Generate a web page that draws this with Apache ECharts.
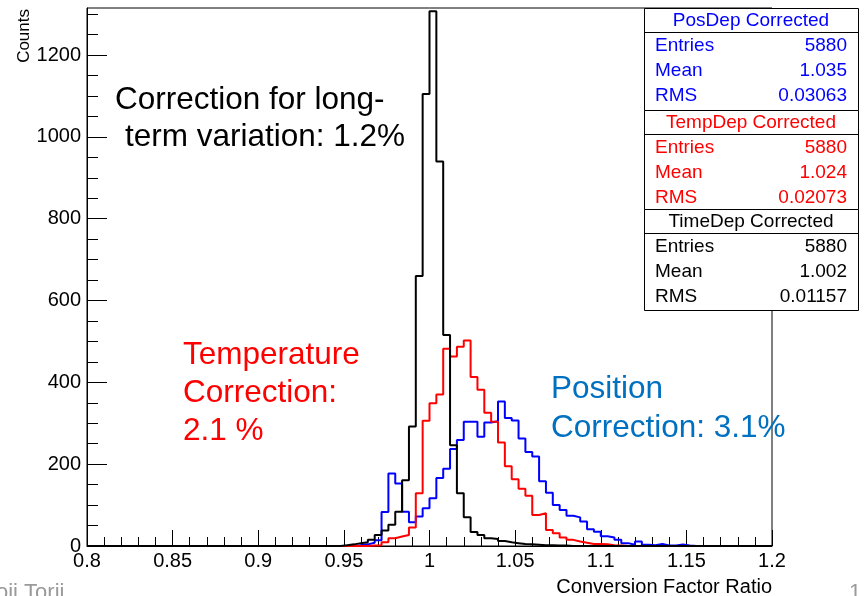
<!DOCTYPE html>
<html>
<head>
<meta charset="utf-8">
<script src="https://cdn.jsdelivr.net/npm/echarts@6/dist/echarts.min.js"></script>
<style>
html,body{margin:0;padding:0;background:#fff;}
#main{width:866px;height:596px;}
</style>
</head>
<body>
<div id="main"></div>
<script>
// Histogram binning (ROOT TH1: 100 bins from 0.8 to 1.2)
const xLow = 0.8;
const xHigh = 1.2;
const nBins = 100;

// PosDep Corrected (blue), counts starting at bin index posStart
const posStart = 39;
const posCounts = [2,4,8,14,83,177,153,84,58,72,92,117,166,189,237,259,304,304,267,302,305,353,313,307,263,230,219,158,130,100,88,74,70,60,41,35,24,21,15,7,3,11,3,2,5,1,1,4,1];

// TempDep Corrected (red)
const tempStart = 41;
const tempCounts = [1,2,9,19,23,27,45,129,306,349,370,482,463,487,502,413,382,326,304,253,195,163,140,123,76,80,39,31,21,15,11,8,5,5,4,2,1];

// TimeDep Corrected (black)
const timeStart = 37;
const timeCounts = [2,4,7,9,15,27,38,52,84,161,292,660,1105,1307,940,516,246,129,70,34,27,19,17,12,9,7,5,4,3,2,2,1,1];

// Axis ticks
const xMajorTicks = [0.8,0.85,0.9,0.95,1,1.05,1.1,1.15,1.2];
const yMajorTicks = [0,200,400,600,800,1000,1200];
const yMax = 1315;

// Stats boxes
const statsTitles = ['PosDep Corrected','TempDep Corrected','TimeDep Corrected'];
const statsEntries = ['5880','5880','5880'];
const statsMeans = ['1.035','1.024','1.002'];
const statsRMS = ['0.03063','0.02073','0.01157'];
const statsColors = ['#0000ff','#ff0000','#000000'];

function buildSteps(start, counts){
  const w = (xHigh - xLow) / nBins;
  const full = new Array(nBins).fill(0);
  counts.forEach((c,i)=>{ full[start+i] = c; });
  const pts = [];
  for(let i=0;i<nBins;i++) pts.push([xLow + i*w, full[i]]);
  pts.push([xHigh, full[nBins-1]]);
  return pts;
}

const xMinorTicks = [];
for(let k=1;k<40;k++){ if(k%5!==0) xMinorTicks.push(+(xLow + k*0.01).toFixed(3)); }
const yMinorTicks = [];
for(let v=50; v<yMax; v+=50){ if(v%200!==0) yMinorTicks.push(v); }

const FONT = "'Liberation Sans', Arial, Helvetica, sans-serif";

const chart = echarts.init(document.getElementById('main'), null, {renderer:'canvas'});

const graphics = [];
// axis titles
graphics.push({type:'text', x:16, y:9, rotation:Math.PI/2,
  style:{text:'Counts', font:'17px '+FONT, fill:'#000', align:'right', verticalAlign:'top'}});
graphics.push({type:'text', x:772, y:587,
  style:{text:'Conversion Factor Ratio', font:'20px '+FONT, fill:'#000', align:'right', verticalAlign:'middle'}});
// annotations
graphics.push({type:'text', x:115, y:100,
  style:{text:'Correction for long-', font:'31.5px '+FONT, fill:'#000', align:'left', verticalAlign:'middle'}});
graphics.push({type:'text', x:125, y:137,
  style:{text:'term variation: 1.2%', font:'31.5px '+FONT, fill:'#000', align:'left', verticalAlign:'middle'}});
graphics.push({type:'text', x:183, y:355,
  style:{text:'Temperature', font:'31.5px '+FONT, fill:'#ff0000', align:'left', verticalAlign:'middle'}});
graphics.push({type:'text', x:183, y:393,
  style:{text:'Correction:', font:'31.5px '+FONT, fill:'#ff0000', align:'left', verticalAlign:'middle'}});
graphics.push({type:'text', x:183, y:431,
  style:{text:'2.1 %', font:'31.5px '+FONT, fill:'#ff0000', align:'left', verticalAlign:'middle'}});
graphics.push({type:'text', x:551, y:389,
  style:{text:'Position', font:'31.5px '+FONT, fill:'#0070c0', align:'left', verticalAlign:'middle'}});
graphics.push({type:'text', x:551, y:428,
  style:{text:'Correction: 3.1%', font:'31.5px '+FONT, fill:'#0070c0', align:'left', verticalAlign:'middle'}});
// slide footer fragments
graphics.push({type:'text', x:-4, y:582,
  style:{text:'oji Torii', font:'22px '+FONT, fill:'#9a9a9a', align:'left', verticalAlign:'top'}});
graphics.push({type:'text', x:849, y:582,
  style:{text:'1', font:'22px '+FONT, fill:'#9a9a9a', align:'left', verticalAlign:'top'}});

// stats boxes
const boxL = 644, boxR = 858;
const boxTops = [8, 110, 209];
const boxBottoms = [110, 209, 310];
const titleH = 24;
for(let b=0;b<3;b++){
  const t = boxTops[b], bt = boxBottoms[b];
  graphics.push({type:'rect', shape:{x:boxL+0.5, y:t+0.5, width:boxR-boxL, height:bt-t},
    style:{fill:'#fff', stroke:'#000', lineWidth:1}, z:10});
  graphics.push({type:'line', shape:{x1:boxL, y1:t+titleH+0.5, x2:boxR, y2:t+titleH+0.5},
    style:{stroke:'#000', lineWidth:1}, z:11});
  const c = statsColors[b];
  graphics.push({type:'text', x:(boxL+boxR)/2, y:t+titleH/2+1, z:12,
    style:{text:statsTitles[b], font:'19px '+FONT, fill:c, align:'center', verticalAlign:'middle'}});
  const rows = [['Entries',statsEntries[b]],['Mean',statsMeans[b]],['RMS',statsRMS[b]]];
  rows.forEach((r,i)=>{
    const y = t + titleH + 14 + i*25;
    graphics.push({type:'text', x:655, y:y, z:12,
      style:{text:r[0], font:'19px '+FONT, fill:c, align:'left', verticalAlign:'middle'}});
    graphics.push({type:'text', x:847, y:y, z:12,
      style:{text:r[1], font:'19px '+FONT, fill:c, align:'right', verticalAlign:'middle'}});
  });
}

const option = {
  animation:false,
  backgroundColor:'#fff',
  grid:{left:87, right:94, top:8, bottom:50, show:true, borderColor:'#000', borderWidth:1, backgroundColor:'transparent'},
  xAxis:[{
    type:'value', min:xLow, max:xHigh, interval:0.05,
    axisLine:{show:true, onZero:false, lineStyle:{color:'#000', width:1}},
    axisTick:{show:true, inside:true, length:16, customValues:xMajorTicks, lineStyle:{color:'#000'}},
    axisLabel:{show:true, customValues:xMajorTicks, color:'#000', fontSize:20, fontFamily:FONT, margin:5,
      formatter:v=>String(+(+v).toFixed(3))},
    splitLine:{show:false}
  },{
    type:'value', min:xLow, max:xHigh, position:'bottom',
    axisLine:{show:false},
    axisTick:{show:true, inside:true, length:9, customValues:xMinorTicks, lineStyle:{color:'#000'}},
    axisLabel:{show:false}, splitLine:{show:false}
  }],
  yAxis:[{
    type:'value', min:0, max:yMax, interval:200,
    axisLine:{show:true, onZero:false, lineStyle:{color:'#000', width:1}},
    axisTick:{show:true, inside:true, length:20, customValues:yMajorTicks, lineStyle:{color:'#000'}},
    axisLabel:{show:true, customValues:yMajorTicks, color:'#000', fontSize:20, fontFamily:FONT, margin:6,
      formatter:v=>String(Math.round(v))},
    splitLine:{show:false}
  },{
    type:'value', min:0, max:yMax, position:'left',
    axisLine:{show:false},
    axisTick:{show:true, inside:true, length:11, customValues:yMinorTicks, lineStyle:{color:'#000'}},
    axisLabel:{show:false}, splitLine:{show:false}
  }],
  series:[
    {name:'PosDep Corrected', type:'line', step:'end', showSymbol:false, data:buildSteps(posStart,posCounts),
      lineStyle:{color:'#0000ff', width:2}, itemStyle:{color:'#0000ff'}, z:2},
    {name:'TempDep Corrected', type:'line', step:'end', showSymbol:false, data:buildSteps(tempStart,tempCounts),
      lineStyle:{color:'#ff0000', width:2}, itemStyle:{color:'#ff0000'}, z:3},
    {name:'TimeDep Corrected', type:'line', step:'end', showSymbol:false, data:buildSteps(timeStart,timeCounts),
      lineStyle:{color:'#000000', width:2}, itemStyle:{color:'#000000'}, z:4}
  ],
  graphic:graphics
};
chart.setOption(option);
</script>
</body>
</html>
